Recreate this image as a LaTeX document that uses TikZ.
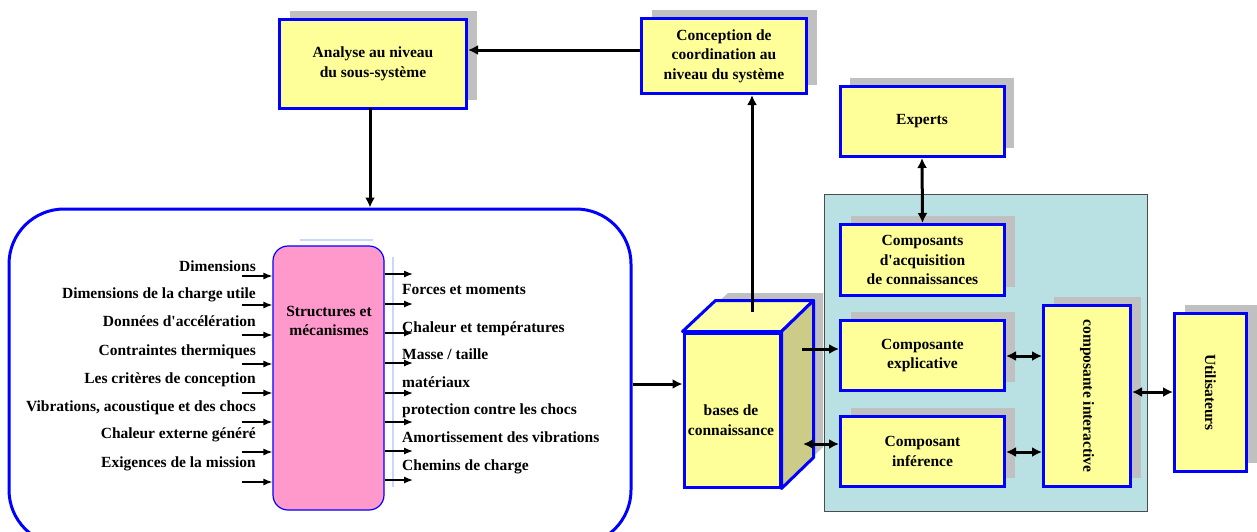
\documentclass[tikz,border=0pt]{standalone}
\usepackage{fontspec}
\setmainfont{Liberation Serif}
\usetikzlibrary{arrows.meta,calc,shadows}

\definecolor{boxyellow}{RGB}{255,255,153}
\definecolor{boxblue}{RGB}{0,0,255}
\definecolor{shadowgray}{RGB}{192,192,192}
\definecolor{panelteal}{RGB}{185,224,226}
\definecolor{pinkfill}{RGB}{255,153,204}
\definecolor{cubeside}{RGB}{204,204,136}
\definecolor{cubetop}{RGB}{255,255,170}
\definecolor{guideblue}{RGB}{200,216,248}

\newcommand{\ap}{\textquotesingle}
\newcommand{\lblfont}{\bfseries\fontsize{15.5}{19.5}\selectfont}

\tikzset{
  lbl/.style={font=\lblfont, inner sep=0pt},
  yellowbox/.style={draw=boxblue, line width=3pt, fill=boxyellow,
    font=\lblfont, align=center, inner sep=0pt,
    general shadow={fill=shadowgray, shadow xshift=10pt, shadow yshift=9pt}},
  bigframe/.style={draw=boxblue, line width=3pt, fill=white, rounded corners=55pt},
  pinkbox/.style={draw=boxblue, line width=1.2pt, fill=pinkfill, rounded corners=15pt,
    inner sep=0pt},
  panel/.style={draw=black!70, line width=1pt, fill=panelteal},
  conn/.style={line width=3pt, -{Latex[length=10pt,width=10pt]}},
  biconn/.style={line width=3pt, {Latex[length=10pt,width=10pt]}-{Latex[length=10pt,width=10pt]}},
  inarrow/.style={line width=1.3pt, -{Latex[length=9pt,width=7pt]}},
  guide/.style={draw=guideblue, line width=1.5pt},
}

\begin{document}
\begin{tikzpicture}[x=1pt, y=-1pt]
\useasboundingbox (0,0) rectangle (1257,531);
\clip (0,0) rectangle (1257,531);
\fill[white] (0,0) rectangle (1257,531);

% --- subsystem frame with the structures block ---
\node[bigframe, minimum width=622, minimum height=336] (sys) at (320,377) {};
\draw[guide] (300,240) -- (373,240);
\node[pinkbox, minimum width=111, minimum height=264] (pink) at (328.5,378) {};
\node[lbl, align=center] (pinktext) at (329,321) {Structures et\\mécanismes};
\draw[guide] (393,257) -- (393,487);

% inputs
\foreach \ay/\ly/\txt [count=\i] in {
  276/271.5/Dimensions,
  305/298.5/Dimensions de la charge utile,
  335/326.5/{Données d\ap accélération},
  364/355.5/Contraintes thermiques,
  393/383.5/Les critères de conception,
  422/411.5/{Vibrations, acoustique et des chocs},
  452/438.5/Chaleur externe généré,
  482/467.5/Exigences de la mission}{
  \coordinate (in\i) at (242,\ay);
  \draw[inarrow] (in\i) -- (pink.west |- 0,\ay);
  \node[lbl, anchor=base east] (inl\i) at (256,\ly) {\txt};
}

% outputs
\foreach \ay [count=\i] in {274,304,333,363,393,422,451,480}{
  \coordinate (out\i) at (413,\ay);
  \draw[inarrow] (pink.east |- 0,\ay) -- (out\i);
}
\foreach \ly/\txt [count=\i] in {
  294/Forces et moments,
  332/Chaleur et températures,
  359/{Masse / taille},
  387/matériaux,
  414/protection contre les chocs,
  442/Amortissement des vibrations,
  470/Chemins de charge}{
  \node[lbl, anchor=base west] (outl\i) at (402,\ly) {\txt};
}

% --- top boxes ---
\node[yellowbox, minimum width=187, minimum height=89] (analyse) at (373,64)
  {Analyse au niveau\\du sous-système};
\node[yellowbox, minimum width=165, minimum height=75] (concept) at (724,56)
  {Conception de\\coordination au\\niveau du système};
\coordinate (adown) at (370,108);

% --- expert system panel ---
\node[panel, minimum width=323, minimum height=317] (panel) at (985.5,352.5) {};
\node[yellowbox, minimum width=164, minimum height=70] (experts) at (922,121.5) {Experts};
\node[yellowbox, minimum width=164, minimum height=71] (acq) at (922.5,260)
  {Composants\\d\ap acquisition\\de connaissances};
\node[yellowbox, minimum width=164, minimum height=70] (expl) at (922.5,355.5)
  {Composante\\explicative};
\node[yellowbox, minimum width=164, minimum height=70] (infer) at (922.5,451.5)
  {Composant\\inférence};
\node[yellowbox, minimum width=87, minimum height=181,
  label={[lbl, rotate=-90]center:composante interactive}] (inter) at (1087,396) {};
\node[yellowbox, minimum width=72, minimum height=158,
  label={[lbl, rotate=-90]center:Utilisateurs}] (users) at (1210.5,392.5) {};

% --- knowledge base cube ---
\fill[shadowgray] (695,478) -- (695,324) -- (728,293) -- (823,293) -- (823,447) -- (791,478) -- cycle;
\node[draw=boxblue, line width=3pt, fill=boxyellow, minimum width=96, minimum height=154,
  inner sep=0pt] (kb) at (732,410) {};
\draw[draw=boxblue, line width=3pt, fill=cubetop, line join=round]
  (kb.north west) -- ([shift={(33,-31)}]kb.north west) -- ([shift={(32,-31)}]kb.north east)
  -- (kb.north east) -- cycle;
\draw[draw=boxblue, line width=3pt, fill=cubeside, line join=round]
  (kb.north east) -- ([shift={(32,-31)}]kb.north east) -- ([shift={(32,-31)}]kb.south east)
  -- (kb.south east) -- cycle;
\node[lbl, align=center] (kbtext) at (731,420) {bases de\\connaissance};
\coordinate (kbtop) at (752,312);
\coordinate (kbout) at (802,349);
\coordinate (kbio) at (803,444);

% --- connectors ---
\draw[conn] (concept.west |- 0,50) -- (analyse.east |- 0,50);
\draw[conn] (adown) -- (adown |- sys.north);
\draw[conn] (sys.east |- 0,384) -- (kb.west |- 0,384);
\draw[conn] (kbtop) -- (kbtop |- concept.south);
\draw[conn] (kbout) -- (expl.west |- kbout);
\draw[biconn] (kbio) -- (infer.west |- kbio);
\draw[biconn] (experts.south) -- (acq.north);
\draw[biconn] (expl.east |- 0,356) -- (inter.west |- 0,356);
\draw[biconn] (infer.east |- 0,452) -- (inter.west |- 0,452);
\draw[biconn] (inter.east |- 0,392) -- (users.west |- 0,392);
\end{tikzpicture}
\end{document}
